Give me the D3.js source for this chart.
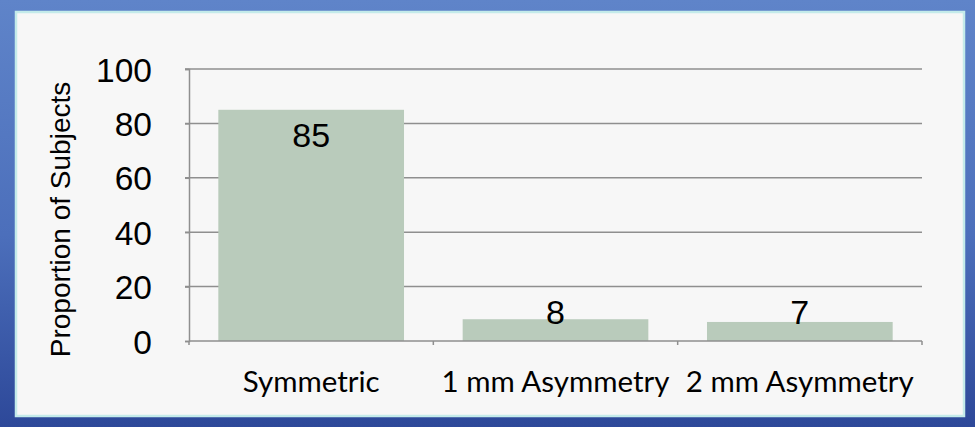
<!DOCTYPE html>
<html><head><meta charset="utf-8">
<script src="https://cdn.jsdelivr.net/npm/d3@7"></script>
<style>html,body{margin:0;padding:0;overflow:hidden;background:#4a6db8}</style>
</head><body>
<svg id="c" width="975" height="427"></svg>
<script>
const categories = ["Symmetric", "1 mm Asymmetry", "2 mm Asymmetry"];
const values = [85, 8, 7];
const yTicks = [0, 20, 40, 60, 80, 100];
const yTitle = "Proportion of Subjects";

(function () {
const svg = d3.select("#c");
const defs = svg.append("defs");
const g = defs.append("linearGradient").attr("id","bg").attr("x1",0).attr("y1",0).attr("x2",0).attr("y2",1);
g.append("stop").attr("offset","0%").attr("stop-color","#5f84c9");
g.append("stop").attr("offset","55%").attr("stop-color","#4c6fbb");
g.append("stop").attr("offset","100%").attr("stop-color","#2d4899");
svg.append("rect").attr("width",975).attr("height",427).attr("fill","url(#bg)");
svg.append("rect").attr("x",16).attr("y",12).attr("width",948).attr("height",404)
  .attr("fill","#f7f7f7").attr("stroke","#c4ebea").attr("stroke-width",2.5);

const pLeft = 189, pRight = 922, pTop = 69, pBottom = 341;
const x = d3.scaleBand().domain(categories).range([pLeft, pRight]).paddingInner(0.24).paddingOuter(0.12);
const y = d3.scaleLinear().domain([0, 100]).range([pBottom, pTop]);

// gridlines
svg.append("g").selectAll("line").data(yTicks.filter(t => t > 0)).join("line")
  .attr("x1", pLeft - 4).attr("x2", pRight).attr("y1", d => y(d)).attr("y2", d => y(d))
  .attr("stroke", "#8f8f8f").attr("stroke-width", 1.5);

// bars
svg.append("g").selectAll("rect").data(values).join("rect")
  .attr("x", (d,i) => x(categories[i])).attr("width", x.bandwidth())
  .attr("y", d => y(d)).attr("height", d => y(0) - y(d))
  .attr("fill", "#b9cbbb");

// y axis
const ya = svg.append("g").attr("transform", `translate(${pLeft},0)`)
  .call(d3.axisLeft(y).tickValues(yTicks).tickSize(4).tickPadding(33));
ya.select(".domain").attr("stroke", "#8f8f8f").attr("stroke-width", 1.5);
ya.selectAll(".tick line").attr("stroke", "#8f8f8f").attr("stroke-width", 1.5);
ya.selectAll("text").attr("font-family", "'Liberation Sans', Arial, sans-serif")
  .attr("font-size", 33.5).attr("fill", "#000").attr("dy", "0.36em");

// x axis
const bandEdges = [pLeft, ...categories.map(c => x(c) + x.bandwidth() + x.step()*x.paddingInner()/2)];
svg.append("line").attr("x1", pLeft).attr("x2", pRight).attr("y1", pBottom).attr("y2", pBottom)
  .attr("stroke", "#8f8f8f").attr("stroke-width", 1.5);
svg.append("g").selectAll("line").data(bandEdges).join("line")
  .attr("x1", d => Math.min(d, pRight)).attr("x2", d => Math.min(d, pRight))
  .attr("y1", pBottom).attr("y2", pBottom + 4)
  .attr("stroke", "#8f8f8f").attr("stroke-width", 1.5);

svg.append("g").selectAll("text").data(categories).join("text")
  .attr("x", d => x(d) + x.bandwidth()/2).attr("y", 392)
  .attr("text-anchor", "middle")
  .attr("font-family", "Lato, 'Open Sans', sans-serif").attr("font-size", 29.5)
  .attr("fill", "#000").text(d => d);

// value labels
svg.append("g").selectAll("text").data(values).join("text")
  .attr("x", (d,i) => x(categories[i]) + x.bandwidth()/2)
  .attr("y", d => Math.min(y(d) + 37, y(0) - 17.5))
  .attr("text-anchor", "middle")
  .attr("font-family", "'Liberation Sans', Arial, sans-serif").attr("font-size", 34)
  .attr("fill", "#000").text(d => d);

// y title
svg.append("text").attr("transform", "translate(70,219.5) rotate(-90)")
  .attr("text-anchor", "middle")
  .attr("font-family", "'Liberation Sans', Arial, sans-serif").attr("font-size", 28)
  .attr("fill", "#000").text(yTitle);
})();
</script>
</body></html>
